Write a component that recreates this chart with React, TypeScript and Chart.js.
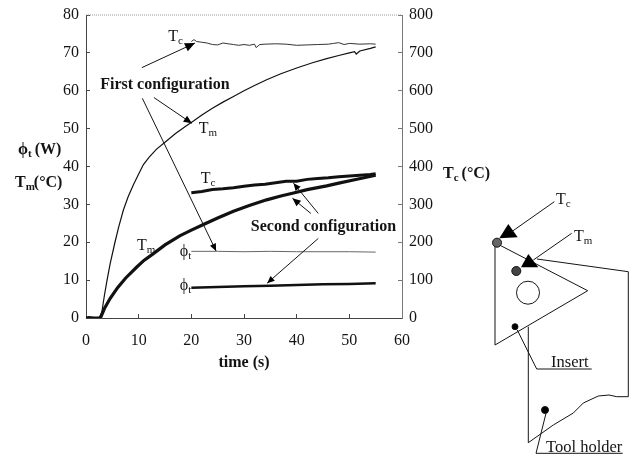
import React, { useEffect, useRef } from "react";
import { Chart, registerables } from "chart.js";

Chart.register(...registerables);

const SERIF = '"Liberation Serif", "Times New Roman", serif';
const INK = "#141414";

const xTicks = [0, 10, 20, 30, 40, 50, 60];

// First configuration
const tmFirstT = [0, 0.5, 1.5, 2.5, 3, 3.5, 4, 4.6, 5.5, 6.2, 7.1, 8, 9, 10, 10.9, 12, 13.4, 15, 17, 19, 20.4, 22, 24, 26, 28, 30, 32, 34.3, 37, 40, 43, 45.7, 48, 50, 51, 51.3, 52, 54, 55];
const tmFirstV = [0, 0.1, 0, 0, 1.5, 6, 10, 14.4, 20, 24, 28.5, 32, 35.2, 38, 40.5, 42.5, 44.6, 46.4, 48.7, 50.7, 52, 53.6, 55.4, 57, 58.5, 60, 61.4, 62.9, 64.5, 66, 67.4, 68.5, 69.3, 70, 70.3, 69.7, 70.5, 71.2, 71.6];
const tcFirstT = [20, 20.5, 21, 22, 23, 24, 25, 26, 27, 28, 29, 30, 31, 32, 32.3, 33, 34, 36, 38, 40, 42, 44, 46, 47, 48, 49, 50, 52, 54, 55];
const tcFirstV = [730, 735, 730, 728, 726, 722, 721, 726, 724, 722, 720, 722, 720, 723, 714, 722, 723, 724, 723, 720, 721, 722, 723, 725, 727, 722, 725, 723, 724, 723];
const phiFirstT = [20, 25, 30, 35, 40, 45, 50, 55];
const phiFirstV = [17.6, 17.6, 17.5, 17.6, 17.5, 17.5, 17.5, 17.4];

// Second configuration
const tmSecondT = [0, 0.5, 1.5, 2.5, 2.8, 3.5, 4.6, 6, 7.5, 9.6, 11, 12.8, 15, 17.8, 20, 22.3, 25, 28, 31, 34.3, 37, 39.4, 42, 45.7, 48, 51, 53, 55];
const tmSecondV = [0, 0.1, 0, 0, 0.2, 2.5, 5.2, 8, 10.5, 13.4, 15.2, 17, 19.3, 21.7, 23.2, 24.7, 26.4, 28.2, 29.7, 31.2, 32.2, 33, 33.9, 34.9, 35.6, 36.5, 37.1, 37.7];
const tcSecondT = [20, 22, 24, 26, 28, 30, 32, 34, 36, 38, 40, 42, 44, 46, 48, 50, 52, 54, 55];
const tcSecondV = [331, 334, 339, 341, 344, 348, 351, 353, 357, 361, 361, 366, 368, 370, 373, 375, 377, 379, 381];
const phiSecondT = [20, 25, 30, 35, 40, 45, 50, 55];
const phiSecondV = [8, 8.2, 8.4, 8.5, 8.7, 8.9, 9, 9.2];

const toPoints = (ts: number[], vs: number[]) => ts.map((t, i) => ({ x: t, y: vs[i] }));

// Annotations placed in the units of the left axis (time, value)
const arrows = [
  { from: [10.6, 66.1], to: [20.7, 72.6], head: 11 },
  { from: [12.9, 58.2], to: [20.1, 51.4], head: 9 },
  { from: [10.7, 58], to: [24.7, 17.7], head: 8 },
  { from: [44.1, 27.6], to: [39.4, 35.6], head: 8 },
  { from: [42.7, 27.6], to: [39.2, 31.6], head: 9 },
  { from: [44.1, 21], to: [34.4, 9.2], head: 8 },
];
const symbolLabels = [
  { at: [15.6, 73.2], main: "T", sub: "c" },
  { at: [21.4, 48.8], main: "T", sub: "m" },
  { at: [21.8, 35.6], main: "T", sub: "c" },
  { at: [9.7, 18], main: "T", sub: "m" },
  { at: [17.8, 16.4], main: "ϕ", sub: "t" },
  { at: [17.8, 7.4], main: "ϕ", sub: "t" },
];
const boldLabels = [
  { at: [2.7, 60.5], text: "First configuration" },
  { at: [31.3, 23], text: "Second configuration" },
];

function drawArrow(ctx: CanvasRenderingContext2D, x1: number, y1: number, x2: number, y2: number, head: number) {
  ctx.strokeStyle = INK;
  ctx.fillStyle = "#000";
  ctx.lineWidth = 1;
  ctx.beginPath();
  ctx.moveTo(x1, y1);
  ctx.lineTo(x2, y2);
  ctx.stroke();
  const a = Math.atan2(y2 - y1, x2 - x1);
  ctx.beginPath();
  ctx.moveTo(x2, y2);
  ctx.lineTo(x2 - head * Math.cos(a - 0.42), y2 - head * Math.sin(a - 0.42));
  ctx.lineTo(x2 - head * Math.cos(a + 0.42), y2 - head * Math.sin(a + 0.42));
  ctx.closePath();
  ctx.fill();
}

function symbol(ctx: CanvasRenderingContext2D, x: number, y: number, main: string, sub: string, bold = false, size = 16) {
  ctx.fillStyle = INK;
  ctx.textAlign = "left";
  ctx.textBaseline = "alphabetic";
  const w = bold ? "bold " : "";
  ctx.font = `${w}${size}px ${SERIF}`;
  ctx.fillText(main, x, y);
  const mw = ctx.measureText(main).width;
  ctx.font = `${w}${Math.round(size * 0.68)}px ${SERIF}`;
  ctx.fillText(sub, x + mw, y + 3);
  return x + mw + ctx.measureText(sub).width;
}

function poly(ctx: CanvasRenderingContext2D, pts: number[][], close = false) {
  ctx.beginPath();
  pts.forEach((p, i) => (i ? ctx.lineTo(p[0], p[1]) : ctx.moveTo(p[0], p[1])));
  if (close) ctx.closePath();
}

function dot(ctx: CanvasRenderingContext2D, x: number, y: number, r: number, fill: string) {
  ctx.beginPath();
  ctx.arc(x, y, r, 0, Math.PI * 2);
  ctx.fillStyle = fill;
  ctx.fill();
  ctx.strokeStyle = "#111";
  ctx.lineWidth = 1;
  ctx.stroke();
}

function drawDiagram(ctx: CanvasRenderingContext2D) {
  ctx.strokeStyle = INK;
  ctx.lineWidth = 1;
  poly(ctx, [[537, 259], [628.3, 271.7], [628.3, 396.7], [616.7, 396.7], [609, 395], [598.3, 396], [583.3, 403], [573.3, 413], [553.3, 425], [528.3, 442.7], [528.3, 326.7]]);
  ctx.stroke();
  poly(ctx, [[495, 242.7], [587.7, 290.7], [495, 345]], true);
  ctx.stroke();
  ctx.beginPath();
  ctx.arc(528, 292.7, 11.5, 0, Math.PI * 2);
  ctx.stroke();
  dot(ctx, 497, 242.7, 4.5, "#666");
  dot(ctx, 516.3, 271, 4.5, "#444");
  dot(ctx, 515, 326.7, 3, "#000");
  dot(ctx, 545, 410, 3.5, "#000");
  ctx.fillStyle = "#000";
  poly(ctx, [[508.3, 224], [517.7, 237.3], [499.3, 238.3]], true);
  ctx.fill();
  poly(ctx, [[528.3, 254], [538.3, 267.3], [521, 267.3]], true);
  ctx.fill();
  ctx.strokeStyle = INK;
  poly(ctx, [[554.3, 201.7], [511.7, 231.7]]);
  ctx.stroke();
  poly(ctx, [[571.7, 233.3], [533.3, 260]]);
  ctx.stroke();
  poly(ctx, [[517.3, 330], [536.7, 369], [591.7, 369]]);
  ctx.stroke();
  poly(ctx, [[546, 413.3], [536, 453.3], [622.7, 453.3]]);
  ctx.stroke();
  symbol(ctx, 556, 204, "T", "c");
  symbol(ctx, 574, 241, "T", "m");
  ctx.fillStyle = INK;
  ctx.font = `16.5px ${SERIF}`;
  ctx.textAlign = "left";
  ctx.fillText("Insert", 551, 366.5);
  ctx.fillText("Tool holder", 546, 451.5);
}

const overlay = {
  id: "overlay",
  afterDatasetsDraw(chart: any) {
    const { ctx, chartArea: a, scales } = chart;
    const px = (p: number[]) => [scales.x.getPixelForValue(p[0]), scales.y.getPixelForValue(p[1])];
    ctx.save();
    // plot frame
    ctx.strokeStyle = "#9a9a9a";
    ctx.lineWidth = 1;
    ctx.setLineDash([1, 1]);
    ctx.beginPath();
    ctx.moveTo(a.left, a.top);
    ctx.lineTo(a.right, a.top);
    ctx.stroke();
    ctx.setLineDash([]);
    arrows.forEach((r) => {
      const [x1, y1] = px(r.from);
      const [x2, y2] = px(r.to);
      drawArrow(ctx, x1, y1, x2, y2, r.head);
    });
    symbolLabels.forEach((l) => {
      const [x, y] = px(l.at);
      symbol(ctx, x, y, l.main, l.sub);
    });
    ctx.font = `bold 16px ${SERIF}`;
    ctx.fillStyle = INK;
    ctx.textAlign = "left";
    boldLabels.forEach((l) => {
      const [x, y] = px(l.at);
      ctx.fillText(l.text, x, y);
    });
    // axis captions with subscripts
    let e = symbol(ctx, 18, 154, "ϕ", "t", true, 16);
    ctx.font = `bold 16px ${SERIF}`;
    ctx.fillText(" (W)", e - 1, 154);
    e = symbol(ctx, 15, 187, "T", "m", true, 16);
    ctx.font = `bold 16px ${SERIF}`;
    ctx.fillStyle = INK;
    ctx.fillText("(°C)", e - 1, 187);
    e = symbol(ctx, 443, 178, "T", "c", true, 16);
    ctx.font = `bold 16px ${SERIF}`;
    ctx.fillStyle = INK;
    ctx.fillText(" (°C)", e - 1, 178);
    drawDiagram(ctx);
    ctx.restore();
  },
};

const fixedWidth = (scale: any) => {
  scale.width = 40;
  scale.paddingTop = 0;
  scale.paddingBottom = 0;
};

export default function App() {
  const ref = useRef<HTMLCanvasElement>(null);
  useEffect(() => {
    const line = (data: any[], yAxisID: string, borderWidth: number, borderColor = "#111") => ({
      data,
      yAxisID,
      borderWidth,
      borderColor,
      pointRadius: 0,
      tension: 0,
      fill: false,
    });
    const tickFont = { family: SERIF, size: 16 };
    const chart = new Chart(ref.current as HTMLCanvasElement, {
      type: "scatter",
      data: {
        datasets: [
          { label: "Tm first", showLine: true, ...line(toPoints(tmFirstT, tmFirstV), "y", 1.2) },
          { label: "Tc first", showLine: true, ...line(toPoints(tcFirstT, tcFirstV), "y2", 1, "#333") },
          { label: "Phi first", showLine: true, ...line(toPoints(phiFirstT, phiFirstV), "y", 1, "#666") },
          { label: "Tm second", showLine: true, ...line(toPoints(tmSecondT, tmSecondV), "y", 3.2) },
          { label: "Tc second", showLine: true, ...line(toPoints(tcSecondT, tcSecondV), "y2", 3) },
          { label: "Phi second", showLine: true, ...line(toPoints(phiSecondT, phiSecondV), "y", 2.5) },
        ],
      },
      options: {
        responsive: false,
        animation: false,
        layout: { padding: { left: 46, right: 189, top: 15, bottom: 81 } },
        plugins: { legend: { display: false }, tooltip: { enabled: false } },
        scales: {
          x: {
            type: "linear",
            min: 0,
            max: 60,
            afterFit: (s: any) => {
              s.height = 56;
            },
            afterBuildTicks: (s: any) => {
              s.ticks = xTicks.map((value) => ({ value }));
            },
            border: { color: "#444", width: 1 },
            grid: { drawOnChartArea: false, tickLength: -4, color: "#444" },
            ticks: { font: tickFont, color: INK, padding: 17, maxRotation: 0 },
            title: {
              display: true,
              text: "time (s)",
              font: { family: SERIF, size: 16, weight: "bold" },
              color: INK,
              padding: { top: 0, bottom: 2 },
            },
          },
          y: {
            position: "left",
            min: 0,
            max: 80,
            afterFit: fixedWidth,
            border: { color: "#444", width: 1 },
            grid: { drawOnChartArea: false, tickLength: -4, color: "#444" },
            ticks: { stepSize: 10, font: tickFont, color: INK, padding: 11 },
          },
          y2: {
            position: "right",
            min: 0,
            max: 800,
            afterFit: fixedWidth,
            border: { color: "#777", width: 1 },
            grid: { drawOnChartArea: false, tickLength: -4, color: "#777" },
            ticks: { stepSize: 100, font: tickFont, color: INK, padding: 11 },
          },
        },
      },
      plugins: [overlay],
    } as any);
    return () => chart.destroy();
  }, []);
  return (
    <div style={{ position: "absolute", left: 0, top: 0, width: 631, height: 455, background: "#fff" }}>
      <canvas ref={ref} width={631} height={455} style={{ display: "block" }} />
    </div>
  );
}
